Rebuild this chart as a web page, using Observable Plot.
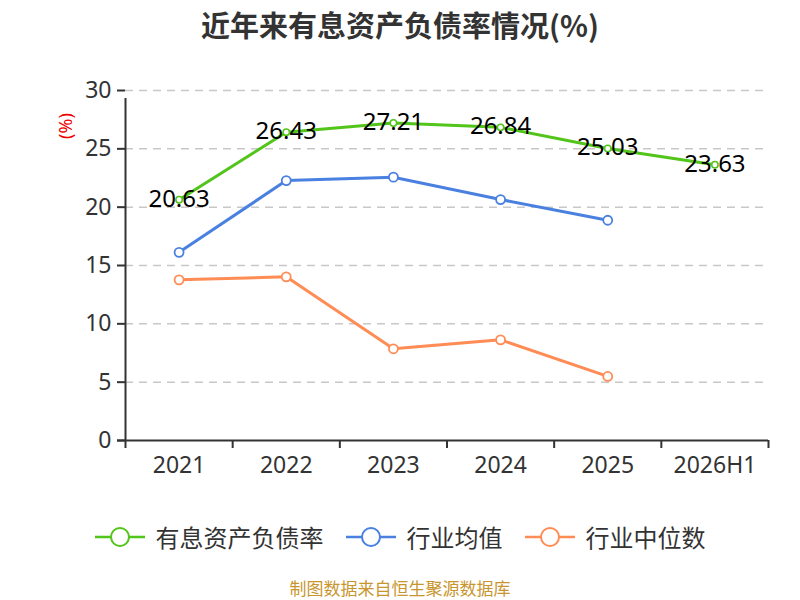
<!DOCTYPE html>
<html>
<head>
<meta charset="utf-8">
<script src="https://cdn.jsdelivr.net/npm/d3@7"></script>
<script src="https://cdn.jsdelivr.net/npm/@observablehq/plot@0.6"></script>
<style>
  html, body { margin: 0; padding: 0; background: #fff; }
  body { width: 800px; height: 600px; position: relative; overflow: hidden;
         font-family: "Noto Sans CJK SC", "Noto Sans", sans-serif; }
  #title { position: absolute; top: 0; left: 0; width: 800px; height: 50px; line-height: 48px;
           text-align: center; font-size: 29px; font-weight: bold; color: #333; }
  #chart { position: absolute; top: 50px; left: 0; }
  #ylabel { position: absolute; left: 50px; top: 114px; color: #e00; font-size: 18px; line-height: 24px;
            transform: rotate(-90deg); transform-origin: center; width: 30px; text-align: center;
            font-family: "Noto Sans", sans-serif; }
  #legend { position: absolute; top: 520px; left: 0; width: 800px; display: flex; justify-content: center;
            gap: 22px; font-size: 24px; color: #333; line-height: 34px; }
  .item { display: flex; align-items: center; gap: 11px; }
  #caption { position: absolute; top: 577px; left: 0; width: 800px; height: 22px; text-align: center;
             font-size: 17px; line-height: 22px; color: #c8962e; }
</style>
</head>
<body>
<div id="title">近年来有息资产负债率情况(%)</div>
<div id="chart"></div>
<div id="ylabel">(%)</div>
<div id="legend"></div>
<div id="caption">制图数据来自恒生聚源数据库</div>
<script>
const years = ["2021", "2022", "2023", "2024", "2025", "2026H1"];
const rate = [20.63, 26.43, 27.21, 26.84, 25.03, 23.63];
const industryAvg = [16.13, 22.28, 22.57, 20.65, 18.88];
const industryMedian = [13.77, 14.03, 7.86, 8.63, 5.49];
const yTicks = [0, 5, 10, 15, 20, 25, 30];
const seriesNames = ["有息资产负债率", "行业均值", "行业中位数"];
const colors = ["#52c41a", "#4a80e0", "#ff8c55"];

const toRows = (vals) => vals.map((v, i) => ({i, year: years[i], v}));
const rateRows = toRows(rate);
const avgRows = toRows(industryAvg);
const medRows = toRows(industryMedian);
const idx = years.map((_, i) => i);
const bounds = [...idx.map(i => i - 0.5), years.length - 0.5];
const numFont = "'Noto Sans', sans-serif";

const plot = Plot.plot({
  width: 800,
  height: 430,
  marginTop: 40,
  marginBottom: 40,
  marginLeft: 125,
  marginRight: 32,
  style: {color: "#333", fontFamily: numFont, background: "transparent"},
  x: {type: "linear", domain: [-0.5, years.length - 0.5]},
  y: {domain: [0, 30]},
  marks: [
    Plot.ruleY(yTicks.filter(t => t > 0), {stroke: "#c8c8c8", strokeWidth: 1.5, strokeDasharray: "8,6"}),
    Plot.axisY({ticks: yTicks, tickSize: 8, tickPadding: 6, fontSize: 23, label: null, strokeWidth: 2}),
    Plot.ruleX([-0.5], {y1: 0, y2: 30, stroke: "#333", strokeWidth: 2, insetBottom: -8}),
    Plot.ruleY([0], {stroke: "#333", strokeWidth: 2, insetLeft: -8}),
    Plot.axisX({ticks: bounds, tickSize: 8, tickFormat: () => "", label: null, strokeWidth: 2}),
    Plot.axisX({ticks: idx, tickSize: 0, tickPadding: 16, tickFormat: i => years[i], fontSize: 23, label: null}),
    Plot.line(medRows, {x: "i", y: "v", stroke: colors[2], strokeWidth: 3}),
    Plot.dot(medRows, {x: "i", y: "v", r: 4.5, fill: "#fff", stroke: colors[2], strokeWidth: 1.8}),
    Plot.line(avgRows, {x: "i", y: "v", stroke: colors[1], strokeWidth: 3}),
    Plot.dot(avgRows, {x: "i", y: "v", r: 4.5, fill: "#fff", stroke: colors[1], strokeWidth: 1.8}),
    Plot.line(rateRows, {x: "i", y: "v", stroke: colors[0], strokeWidth: 3}),
    Plot.dot(rateRows, {x: "i", y: "v", r: 3.2, fill: "#fff", stroke: colors[0], strokeWidth: 1.5}),
    Plot.text(rateRows, {x: "i", y: "v", text: d => d.v.toFixed(2), fill: "#000", fontSize: 24, dy: -1})
  ]
});
document.getElementById("chart").appendChild(plot);

const legend = document.getElementById("legend");
seriesNames.forEach((name, k) => {
  const item = document.createElement("div");
  item.className = "item";
  item.innerHTML = `<svg width="50" height="22"><line x1="0" y1="11" x2="50" y2="11" stroke="${colors[k]}" stroke-width="2.5"/><circle cx="25" cy="11" r="9" fill="#fff" stroke="${colors[k]}" stroke-width="2"/></svg><span>${name}</span>`;
  legend.appendChild(item);
});
</script>
</body>
</html>
